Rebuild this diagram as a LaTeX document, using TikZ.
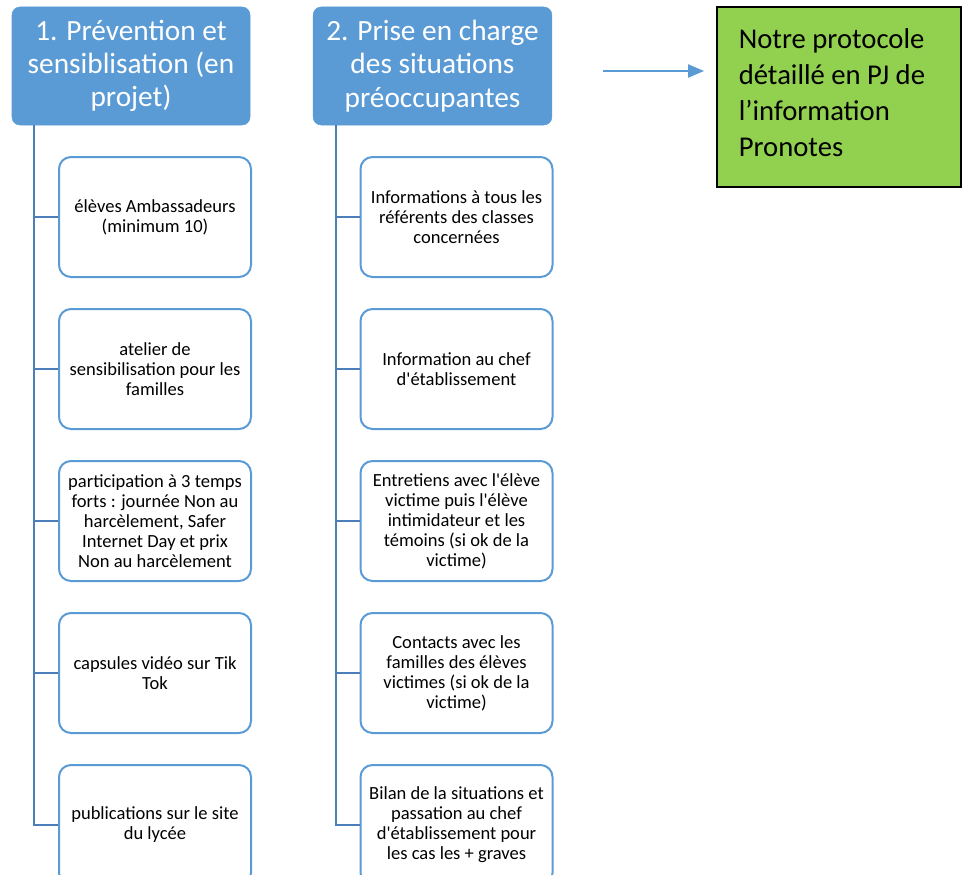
\documentclass[tikz,border=0pt]{standalone}
\usepackage{fontspec}
\setmainfont{Carlito}
\usetikzlibrary{arrows.meta,calc}
\definecolor{hdrblue}{RGB}{91,155,213}
\definecolor{spineblue}{RGB}{76,126,186}
\definecolor{grn}{RGB}{146,208,80}
\newcommand{\sq}{\textquotesingle}
\tikzset{
  hdr/.style={draw=hdrblue, fill=hdrblue, rounded corners=6pt, minimum width=178.5pt, minimum height=88.5pt, text=white, align=center, inner sep=0pt, font=\fontsize{22}{25}\selectfont},
  itembox/.style={draw=hdrblue, line width=1.5pt, fill=white, rounded corners=9pt, minimum width=144pt, minimum height=90pt, align=center, inner sep=0pt, font=\fontsize{13.9}{15}\selectfont},
  spine/.style={draw=spineblue, line width=2pt},
  greenbox/.style={draw=black, line width=2.2pt, fill=grn, minimum width=183pt, minimum height=135pt, inner sep=0pt},
  gtext/.style={align=left, inner sep=0pt, font=\fontsize{21.5}{27}\selectfont},
}
\begin{document}
\begin{tikzpicture}[x=0.75pt,y=-0.75pt]
\useasboundingbox (0,0) rectangle (970,874);
% headers
\node[hdr] (h1) at (131,66) {1. Prévention et\\sensiblisation (en\\projet)};
\node[hdr, minimum width=179pt] (h2) at (432.5,66) {2. Prise en charge\\des situations\\préoccupantes};
% left column
\node[itembox] (l1) at (155,217) {élèves Ambassadeurs\\(minimum 10)};
\node[itembox] (l2) at (155,369) {atelier de\\sensibilisation pour les\\familles};
\node[itembox] (l3) at (155,521) {participation à 3 temps\\forts : journée Non au\\harcèlement, Safer\\Internet Day et prix\\Non au harcèlement};
\node[itembox] (l4) at (155,673) {capsules vidéo sur Tik\\Tok};
\node[itembox] (l5) at (155,825) {publications sur le site\\du lycée};
% right column
\node[itembox] (r1) at (456.5,217) {Informations à tous les\\référents des classes\\concernées};
\node[itembox] (r2) at (456.5,369) {Information au chef\\d\sq établissement};
\node[itembox] (r3) at (456.5,521) {Entretiens avec l\sq élève\\victime puis l\sq élève\\intimidateur et les\\témoins (si ok de la\\victime)};
\node[itembox] (r4) at (456.5,673) {Contacts avec les\\familles des élèves\\victimes (si ok de la\\victime)};
\node[itembox] (r5) at (456.5,825) {Bilan de la situations et\\passation au chef\\d\sq établissement pour\\les cas les + graves};
% spines
\coordinate (s1) at (34,125);
\coordinate (s2) at (336,125);
\draw[spine] (s1) |- (l5.west);
\foreach \b in {l1,l2,l3,l4} \draw[spine] (s1 |- \b.west) -- (\b.west);
\draw[spine] (s2) |- (r5.west);
\foreach \b in {r1,r2,r3,r4} \draw[spine] (s2 |- \b.west) -- (\b.west);
% green box
\node[greenbox] (g) at (839,97) {};
\node[gtext, anchor=west] (gt) at ($(g.west)+(23,-4)$) {Notre protocole\\détaillé en PJ de\\l’information\\Pronotes};
\coordinate (a1) at (603,71);
\coordinate (a2) at (704,71);
\draw[hdrblue, line width=0.9pt, -{Triangle[length=12pt,width=10pt]}] (a1) -- (a2);
\end{tikzpicture}
\end{document}
